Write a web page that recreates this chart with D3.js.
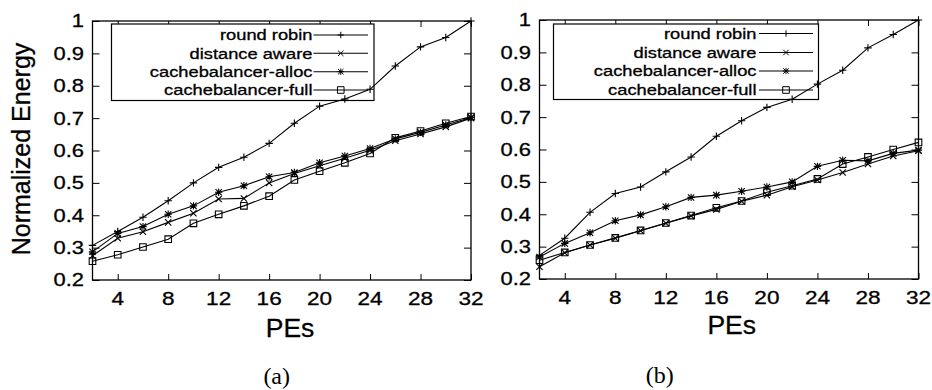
<!DOCTYPE html>
<html><head><meta charset="utf-8">
<script src="https://cdn.jsdelivr.net/npm/d3@7"></script>
<style>
html,body{margin:0;padding:0;background:#fff;}
svg{display:block;}
text{font-family:"Liberation Sans",Arial,Helvetica,sans-serif;fill:#000;stroke:#000;stroke-width:0.3px;}
</style></head>
<body>
<svg id="chart" width="932" height="390"></svg>
<script>
const xValues = [2,4,6,8,10,12,14,16,18,20,22,24,26,28,30,32];
const xTicks = [4,8,12,16,20,24,28,32];
const yTicks = [0.2,0.3,0.4,0.5,0.6,0.7,0.8,0.9,1];
const seriesNames = ["round robin","distance aware","cachebalancer-alloc","cachebalancer-full"];
const markerTypes = ["plus","cross","star","square"];

// panel (a)
const roundRobinA   = [0.307,0.350,0.394,0.445,0.500,0.548,0.579,0.622,0.684,0.737,0.759,0.789,0.861,0.920,0.949,1.000];
const distanceAwareA= [0.275,0.329,0.349,0.378,0.406,0.450,0.452,0.500,0.529,0.553,0.576,0.601,0.630,0.651,0.673,0.700];
const cbAllocA      = [0.287,0.344,0.365,0.403,0.429,0.471,0.491,0.519,0.532,0.562,0.583,0.606,0.636,0.656,0.679,0.702];
const cbFullA       = [0.258,0.278,0.302,0.326,0.375,0.403,0.429,0.459,0.509,0.536,0.562,0.591,0.639,0.660,0.684,0.705];
// panel (b)
const roundRobinB   = [0.273,0.326,0.406,0.464,0.484,0.531,0.577,0.641,0.689,0.730,0.755,0.802,0.845,0.914,0.955,1.000];
const distanceAwareB= [0.238,0.281,0.305,0.326,0.349,0.372,0.395,0.415,0.440,0.459,0.485,0.506,0.529,0.555,0.580,0.596];
const cbAllocB      = [0.268,0.310,0.343,0.380,0.398,0.423,0.452,0.459,0.471,0.484,0.500,0.548,0.567,0.565,0.588,0.598];
const cbFullB       = [0.258,0.282,0.305,0.327,0.350,0.373,0.396,0.420,0.441,0.468,0.488,0.509,0.555,0.577,0.600,0.622];

const panels = [
  {label:"(a)", series:[roundRobinA,distanceAwareA,cbAllocA,cbFullA],
   x0:92.5, x1:471, y0:21, y1:280, ylabel:true,
   legend:{left:111.5, right:374, top:24, bottom:100.5, textRight:312.5, lineFrom:313.5, lineTo:368, rows:[35,53.3,71.7,90]},
   pes:{x:290, y:337}, cap:{x:276.7, y:384}},
  {label:"(b)", series:[roundRobinB,distanceAwareB,cbAllocB,cbFullB],
   x0:539.5, x1:918.5, y0:20, y1:279, ylabel:false,
   legend:{left:553.5, right:818.5, top:24, bottom:99.5, textRight:756.5, lineFrom:759, lineTo:813, rows:[33.5,52.5,71,90]},
   pes:{x:731.7, y:334}, cap:{x:659.7, y:383}}
];

const svg = d3.select("#chart");
const SX = 1.22;

function stext(g, x, y, str, size, anchor, sx, baseline){
  return g.append("text")
    .attr("transform", `translate(${x},${y}) scale(${sx},1)`)
    .attr("text-anchor", anchor)
    .attr("dy", baseline || null)
    .style("font-size", size + "px")
    .text(str);
}

function markerPath(type, s){
  const p = d3.path();
  if (type === "plus" || type === "star"){
    p.moveTo(-s,0); p.lineTo(s,0); p.moveTo(0,-s); p.lineTo(0,s);
  }
  if (type === "cross" || type === "star"){
    const c = s*0.85;
    p.moveTo(-c,-c); p.lineTo(c,c); p.moveTo(-c,c); p.lineTo(c,-c);
  }
  if (type === "square"){
    p.rect(-3.3,-3.3,6.6,6.6);
  }
  return p.toString();
}

panels.forEach(P => {
  const g = svg.append("g");
  const x = d3.scaleLinear().domain([2,32]).range([P.x0,P.x1]);
  const y = d3.scaleLinear().domain([0.2,1]).range([P.y1,P.y0]);

  const bottom = g.append("g").attr("transform",`translate(0,${P.y1})`)
    .call(d3.axisBottom(x).tickValues(xTicks).tickSizeInner(-6).tickSizeOuter(0).tickFormat(""));
  const top = g.append("g").attr("transform",`translate(0,${P.y0})`)
    .call(d3.axisTop(x).tickValues(xTicks).tickSizeInner(-6).tickSizeOuter(0).tickFormat(""));
  const left = g.append("g").attr("transform",`translate(${P.x0},0)`)
    .call(d3.axisLeft(y).tickValues(yTicks).tickSizeInner(-7).tickSizeOuter(0).tickFormat(""));
  const right = g.append("g").attr("transform",`translate(${P.x1},0)`)
    .call(d3.axisRight(y).tickValues(yTicks).tickSizeInner(-7).tickSizeOuter(0).tickFormat(""));
  [bottom,top,left,right].forEach(a=>{
    a.selectAll("path").remove();
    a.selectAll("line").attr("stroke","#000").attr("stroke-width",1);
  });
  g.append("rect").attr("x",P.x0).attr("y",P.y0)
    .attr("width",P.x1-P.x0).attr("height",P.y1-P.y0)
    .attr("fill","none").attr("stroke","#000").attr("stroke-width",1.3);

  xTicks.forEach(t => stext(g, x(t), P.y1+24.5, String(t), 18.5, "middle", SX));
  yTicks.forEach(t => stext(g, P.x0-8.5, y(t), t===1?"1":d3.format(".1f")(t), 18, "end", SX, "0.36em"));

  stext(g, P.pes.x, P.pes.y, "PEs", 25, "middle", 1.06);
  if (P.ylabel){
    g.append("text")
      .attr("transform",`translate(30,149) rotate(-90)`)
      .attr("text-anchor","middle")
      .style("font-size","25px")
      .text("Normalized Energy");
  }
  g.append("text").attr("x",P.cap.x).attr("y",P.cap.y)
    .attr("text-anchor","middle")
    .style("font-family",'"Liberation Serif","Times New Roman",serif')
    .style("font-size","24px")
    .style("font-weight","normal")
    .style("stroke","none")
    .text(P.label);

  const L = P.legend;
  g.append("rect").attr("x",L.left).attr("y",L.top)
    .attr("width",L.right-L.left).attr("height",L.bottom-L.top)
    .attr("fill","#fff").attr("stroke","#000").attr("stroke-width",1.2);

  const line = d3.line().x((d,i)=>x(xValues[i])).y(d=>y(d));
  P.series.forEach((vals, si) => {
    g.append("path").datum(vals).attr("d",line)
      .attr("fill","none").attr("stroke","#000").attr("stroke-width",1.1);
    g.selectAll(null).data(vals).enter().append("path")
      .attr("transform",(d,i)=>`translate(${x(xValues[i])},${y(d)})`)
      .attr("d", markerPath(markerTypes[si], 3.7))
      .attr("fill","none").attr("stroke","#000").attr("stroke-width",1.1);
  });

  seriesNames.forEach((name, si) => {
    const ry = L.rows[si];
    stext(g, L.textRight, ry, name, 15, "end", SX, "0.36em");
    g.append("line").attr("x1",L.lineFrom).attr("x2",L.lineTo).attr("y1",ry).attr("y2",ry)
      .attr("stroke","#000").attr("stroke-width",1.1);
    g.append("path").attr("transform",`translate(${(L.lineFrom+L.lineTo)/2},${ry})`)
      .attr("d", markerPath(markerTypes[si], 3.2))
      .attr("fill","none").attr("stroke","#000").attr("stroke-width",1);
  });
});
</script>
</body></html>
